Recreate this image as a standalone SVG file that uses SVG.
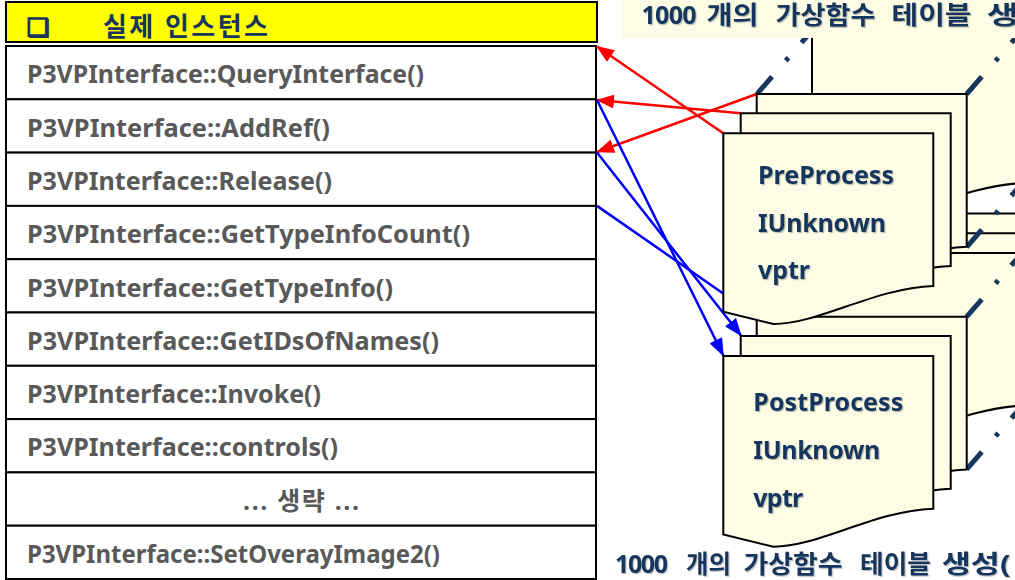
<svg xmlns="http://www.w3.org/2000/svg" width="1015" height="580" viewBox="0 0 1015 580">
<style>
  .row rect { fill: #ffffff; stroke: #000000; stroke-width: 2; }
  .row text { font-family: "Noto Sans", "Noto Sans CJK KR", sans-serif; font-weight: 700; font-size: 25px; fill: #595959; }
  .page { fill: #fdfde6; stroke: #000000; stroke-width: 2; }
  .persp { fill: none; stroke: #17365d; stroke-width: 5; stroke-dasharray: 23 21 4 20; }
  .label { font-family: "Noto Sans", "Noto Sans CJK KR", sans-serif; font-weight: 700; font-size: 25px; fill: #17365d; filter: url(#soft); }
  .cap { font-family: "Noto Sans", "Noto Sans CJK KR", sans-serif; font-weight: 700; font-size: 25px; fill: #17365d; filter: url(#soft); }
  .red { fill: none; stroke: #ff0000; stroke-width: 2.5; marker-end: url(#ah-red); }
  .blue { fill: none; stroke: #0000ff; stroke-width: 2.5; marker-end: url(#ah-blue); }
</style>
<defs>
  <!-- document page: flat top, wavy bottom -->
  <path id="doc" d="M0,0 H210 V152.7 C150,155 95,191 50,190.7 L0,178.4 Z"/>
  <marker id="ah-red" markerUnits="userSpaceOnUse" markerWidth="18" markerHeight="14" viewBox="0 0 18 14" refX="17" refY="7" orient="auto">
    <path d="M0,0 L18,7 L0,14 Z" fill="#ff0000"/>
  </marker>
  <marker id="ah-blue" markerUnits="userSpaceOnUse" markerWidth="18" markerHeight="14" viewBox="0 0 18 14" refX="17" refY="7" orient="auto">
    <path d="M0,0 L18,7 L0,14 Z" fill="#0000ff"/>
  </marker>
  <filter id="soft" x="-5%" y="-30%" width="115%" height="160%">
    <feDropShadow dx="1.2" dy="1.2" stdDeviation="0.6" flood-color="#000000" flood-opacity="0.25"/>
  </filter>
</defs>

<rect width="1015" height="580" fill="#ffffff"/>

<!-- instance table -->
<g id="header">
  <rect x="6" y="2" width="591" height="40" fill="#ffff00" stroke="#000000" stroke-width="2"/>
  <text x="27" y="36" font-family="DejaVu Sans, sans-serif" font-weight="700" font-size="25" fill="#17365d" stroke="#17365d" stroke-width="1.6">❑</text>
  <text x="103" y="36" font-family="Noto Sans, Noto Sans CJK KR, sans-serif" font-weight="700" font-size="26" fill="#17365d" textLength="165">실제 인스턴스</text>
</g>
<g id="row-1" class="row"><rect x="6" y="46" width="590" height="53.3"/><text x="27" y="83.3" textLength="397" lengthAdjust="spacingAndGlyphs">P3VPInterface::QueryInterface()</text></g>
<g id="row-2" class="row"><rect x="6" y="99.3" width="590" height="53.3"/><text x="27" y="136.6" textLength="303" lengthAdjust="spacingAndGlyphs">P3VPInterface::AddRef()</text></g>
<g id="row-3" class="row"><rect x="6" y="152.6" width="590" height="53.3"/><text x="27" y="189.9" textLength="305" lengthAdjust="spacingAndGlyphs">P3VPInterface::Release()</text></g>
<g id="row-4" class="row"><rect x="6" y="205.9" width="590" height="53.3"/><text x="27" y="243.2" textLength="443" lengthAdjust="spacingAndGlyphs">P3VPInterface::GetTypeInfoCount()</text></g>
<g id="row-5" class="row"><rect x="6" y="259.2" width="590" height="53.3"/><text x="27" y="296.5" textLength="366" lengthAdjust="spacingAndGlyphs">P3VPInterface::GetTypeInfo()</text></g>
<g id="row-6" class="row"><rect x="6" y="312.5" width="590" height="53.3"/><text x="27" y="349.8" textLength="412" lengthAdjust="spacingAndGlyphs">P3VPInterface::GetIDsOfNames()</text></g>
<g id="row-7" class="row"><rect x="6" y="365.8" width="590" height="53.3"/><text x="27" y="403.1" textLength="294" lengthAdjust="spacingAndGlyphs">P3VPInterface::Invoke()</text></g>
<g id="row-8" class="row"><rect x="6" y="419.1" width="590" height="53.3"/><text x="27" y="456.4" textLength="311" lengthAdjust="spacingAndGlyphs">P3VPInterface::controls()</text></g>
<g id="row-9" class="row"><rect x="6" y="472.4" width="590" height="53.3"/><text x="243" y="509.7" textLength="116">... 생략 ...</text></g>
<g id="row-10" class="row"><rect x="6" y="525.7" width="590" height="53.3"/><text x="27" y="563" textLength="413" lengthAdjust="spacingAndGlyphs">P3VPInterface::SetOverayImage2()</text></g>

<!-- pointers between the table and the vtable pages -->
<g id="connectors">
  <line class="red" x1="723.3" y1="133.3" x2="597" y2="46.5"/>
  <line class="red" x1="740.7" y1="113.3" x2="597" y2="100"/>
  <line class="red" x1="756.7" y1="94" x2="597" y2="152"/>
  <line class="blue" x1="597" y1="100" x2="723.3" y2="355.5"/>
  <line class="blue" x1="597" y1="152.6" x2="741" y2="335.5"/>
  <line class="blue" x1="597" y1="205.9" x2="756.7" y2="316.7"/>
</g>

<!-- PostProcess vtable stack -->
<g id="post-stack">
  <use href="#doc" class="page" x="846" y="213.5"/>
  <use href="#doc" class="page" x="829" y="233.3"/>
  <use href="#doc" class="page" x="812" y="253"/>
  <line class="persp" x1="966.7" y1="316.7" x2="1022" y2="253"/>
  <line class="persp" x1="966.7" y1="469.3" x2="1022" y2="406"/>
  <use href="#doc" class="page" x="756.7" y="316.7"/>
  <use href="#doc" class="page" x="740.7" y="336"/>
  <use href="#doc" class="page" x="723.3" y="356"/>
  <text class="label" x="753.3" y="410.7" textLength="150">PostProcess</text>
  <text class="label" x="753.3" y="459.3" textLength="127">IUnknown</text>
  <text class="label" x="753.3" y="507" textLength="50">vptr</text>
</g>

<!-- PreProcess vtable stack -->
<g id="pre-stack">
  <use href="#doc" class="page" x="846" y="-8.5"/>
  <use href="#doc" class="page" x="829" y="11"/>
  <use href="#doc" class="page" x="812" y="30.5"/>
  <line class="persp" x1="757" y1="94" x2="812" y2="30.5"/>
  <line class="persp" x1="966.7" y1="94" x2="1022" y2="30.5"/>
  <line class="persp" x1="966.7" y1="247" x2="1022" y2="183.5"/>
  <use href="#doc" class="page" x="756.7" y="94"/>
  <use href="#doc" class="page" x="740.7" y="113.3"/>
  <use href="#doc" class="page" x="723.3" y="133.3"/>
  <text class="label" x="758" y="183.5" textLength="136">PreProcess</text>
  <text class="label" x="758" y="231.5" textLength="128">IUnknown</text>
  <text class="label" x="758" y="279" textLength="52">vptr</text>
</g>

<!-- captions -->
<g id="caption-top">
  <rect x="622" y="0" width="393" height="38" fill="#fdfde6"/>
  <text class="cap" y="24" lengthAdjust="spacingAndGlyphs"><tspan x="641.5" textLength="55">1000</tspan><tspan x="706.5" textLength="52" lengthAdjust="spacingAndGlyphs">개의</tspan><tspan x="775.5" textLength="100" lengthAdjust="spacingAndGlyphs">가상함수</tspan><tspan x="891.5" textLength="80" lengthAdjust="spacingAndGlyphs">테이블</tspan><tspan x="986.7" textLength="76" lengthAdjust="spacingAndGlyphs">생성(</tspan></text>
</g>
<g id="caption-bottom">
  <text class="cap" y="573.3"><tspan x="615" textLength="53">1000</tspan><tspan x="686" textLength="45" lengthAdjust="spacingAndGlyphs">개의</tspan><tspan x="743.5" textLength="99" lengthAdjust="spacingAndGlyphs">가상함수</tspan><tspan x="860" textLength="71" lengthAdjust="spacingAndGlyphs">테이블</tspan><tspan x="941.7" textLength="69" lengthAdjust="spacingAndGlyphs">생성(</tspan></text>
</g>
</svg>
